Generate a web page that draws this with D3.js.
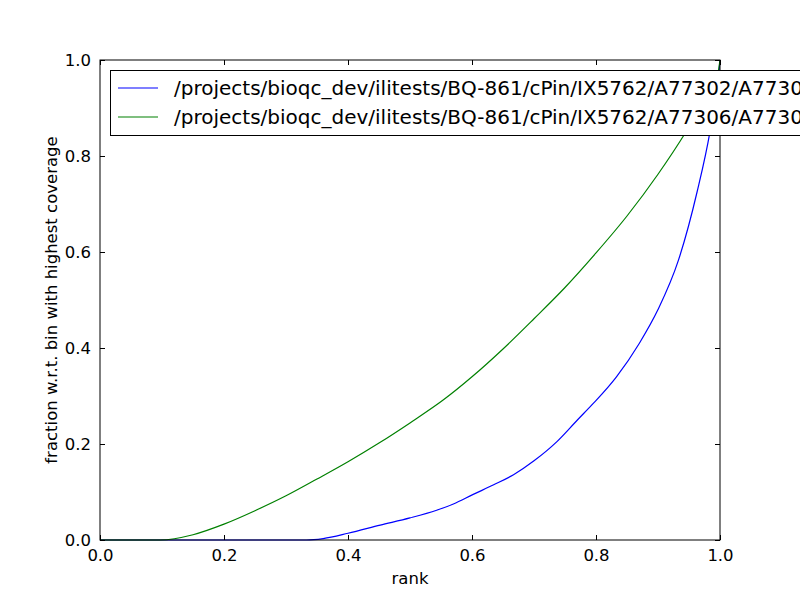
<!DOCTYPE html>
<html><head><meta charset="utf-8">
<script src="https://cdn.jsdelivr.net/npm/d3@7"></script>
<style>body{margin:0;background:#fff;overflow:hidden}svg{display:block}text{font-family:"DejaVu Sans",sans-serif}</style>
</head><body>
<script>
const seriesNames = [
  "/projects/bioqc_dev/ilitests/BQ-861/cPin/IX5762/A77302/A77302",
  "/projects/bioqc_dev/ilitests/BQ-861/cPin/IX5762/A77306/A77306"
];
const seriesColors = ["#0000ff", "#008000"];
const blueX = [0.0, 0.2, 0.333, 0.36, 0.40, 0.452, 0.50, 0.543, 0.57, 0.602, 0.635, 0.667, 0.70, 0.737, 0.77, 0.796, 0.833, 0.87, 0.90, 0.933, 0.963, 0.984, 0.998, 1.0];
const blueY = [0.0, 0.0, 0.0, 0.003, 0.014, 0.031, 0.046, 0.062, 0.075, 0.095, 0.115, 0.136, 0.165, 0.205, 0.250, 0.285, 0.340, 0.410, 0.480, 0.583, 0.725, 0.852, 0.970, 1.0];
const greenX = [0.0, 0.097, 0.15, 0.2, 0.25, 0.3, 0.35, 0.4, 0.45, 0.5, 0.554, 0.6, 0.65, 0.7, 0.75, 0.8, 0.85, 0.9, 0.945, 0.975, 0.997, 1.0];
const greenY = [0.0, 0.0, 0.011, 0.033, 0.061, 0.092, 0.127, 0.163, 0.202, 0.244, 0.292, 0.340, 0.398, 0.461, 0.526, 0.598, 0.675, 0.762, 0.850, 0.915, 0.975, 1.0];
const xTicks = [0, 0.2, 0.4, 0.6, 0.8, 1.0];
const yTicks = [0, 0.2, 0.4, 0.6, 0.8, 1.0];

const W = 800, H = 600;
const svg = d3.select("body").append("svg").attr("width", W).attr("height", H);
const L = 100, R = 720, T = 60, B = 540;
const x = d3.scaleLinear().domain([0, 1]).range([L, R]);
const y = d3.scaleLinear().domain([0, 1]).range([B, T]);

svg.append("defs").append("clipPath").attr("id", "clip")
  .append("rect").attr("x", L - 1).attr("y", T - 1).attr("width", R - L + 2).attr("height", B - T + 2);

const data = [
  blueX.map((v, i) => [v, blueY[i]]),
  greenX.map((v, i) => [v, greenY[i]])
];
const line = d3.line().x(d => x(d[0])).y(d => y(d[1])).curve(d3.curveMonotoneX);
const g = svg.append("g").attr("clip-path", "url(#clip)");
data.forEach((d, i) => {
  g.append("path").attr("d", line(d)).attr("fill", "none")
    .attr("stroke", seriesColors[i]).attr("stroke-width", 1.2);
});

const fmt = d3.format(".1f");
function styleAxis(sel) {
  sel.select(".domain").remove();
  sel.selectAll("line").attr("stroke", "#000");
  sel.selectAll("text").attr("font-size", "16.5px").attr("fill", "#000").attr("font-family", "DejaVu Sans");
}
svg.append("g").attr("transform", `translate(0,${B})`)
  .call(d3.axisBottom(x).tickValues(xTicks).tickFormat(fmt).tickSizeInner(-5).tickPadding(9))
  .call(styleAxis);
svg.append("g").attr("transform", `translate(0,${T})`)
  .call(d3.axisTop(x).tickValues(xTicks).tickFormat("").tickSizeInner(-5))
  .call(styleAxis);
svg.append("g").attr("transform", `translate(${L},0)`)
  .call(d3.axisLeft(y).tickValues(yTicks).tickFormat(fmt).tickSizeInner(-5).tickPadding(9))
  .call(styleAxis);
svg.append("g").attr("transform", `translate(${R},0)`)
  .call(d3.axisRight(y).tickValues(yTicks).tickFormat("").tickSizeInner(-5))
  .call(styleAxis);

svg.append("rect").attr("x", L).attr("y", T).attr("width", R - L).attr("height", B - T)
  .attr("fill", "none").attr("stroke", "#000").attr("stroke-width", 1);

svg.append("text").attr("x", (L + R) / 2).attr("y", 584).attr("text-anchor", "middle")
  .attr("font-size", "16.5px").text("rank");
svg.append("text").attr("transform", `translate(57,${(T + B) / 2}) rotate(-90)`)
  .attr("text-anchor", "middle").attr("font-size", "16.5px")
  .text("fraction w.r.t. bin with highest coverage");

// legend
const lg = svg.append("g");
lg.append("rect").attr("x", 110.5).attr("y", 70.5).attr("width", 760).attr("height", 65)
  .attr("fill", "#fff").attr("stroke", "#000").attr("stroke-width", 1);
seriesNames.forEach((n, i) => {
  const yy = 88 + i * 29;
  lg.append("line").attr("x1", 118).attr("x2", 158).attr("y1", yy).attr("y2", yy)
    .attr("stroke", seriesColors[i]).attr("stroke-width", 1.2);
  lg.append("text").attr("x", 174).attr("y", yy + 7).attr("font-size", "20px").text(n);
});
</script>
</body></html>
